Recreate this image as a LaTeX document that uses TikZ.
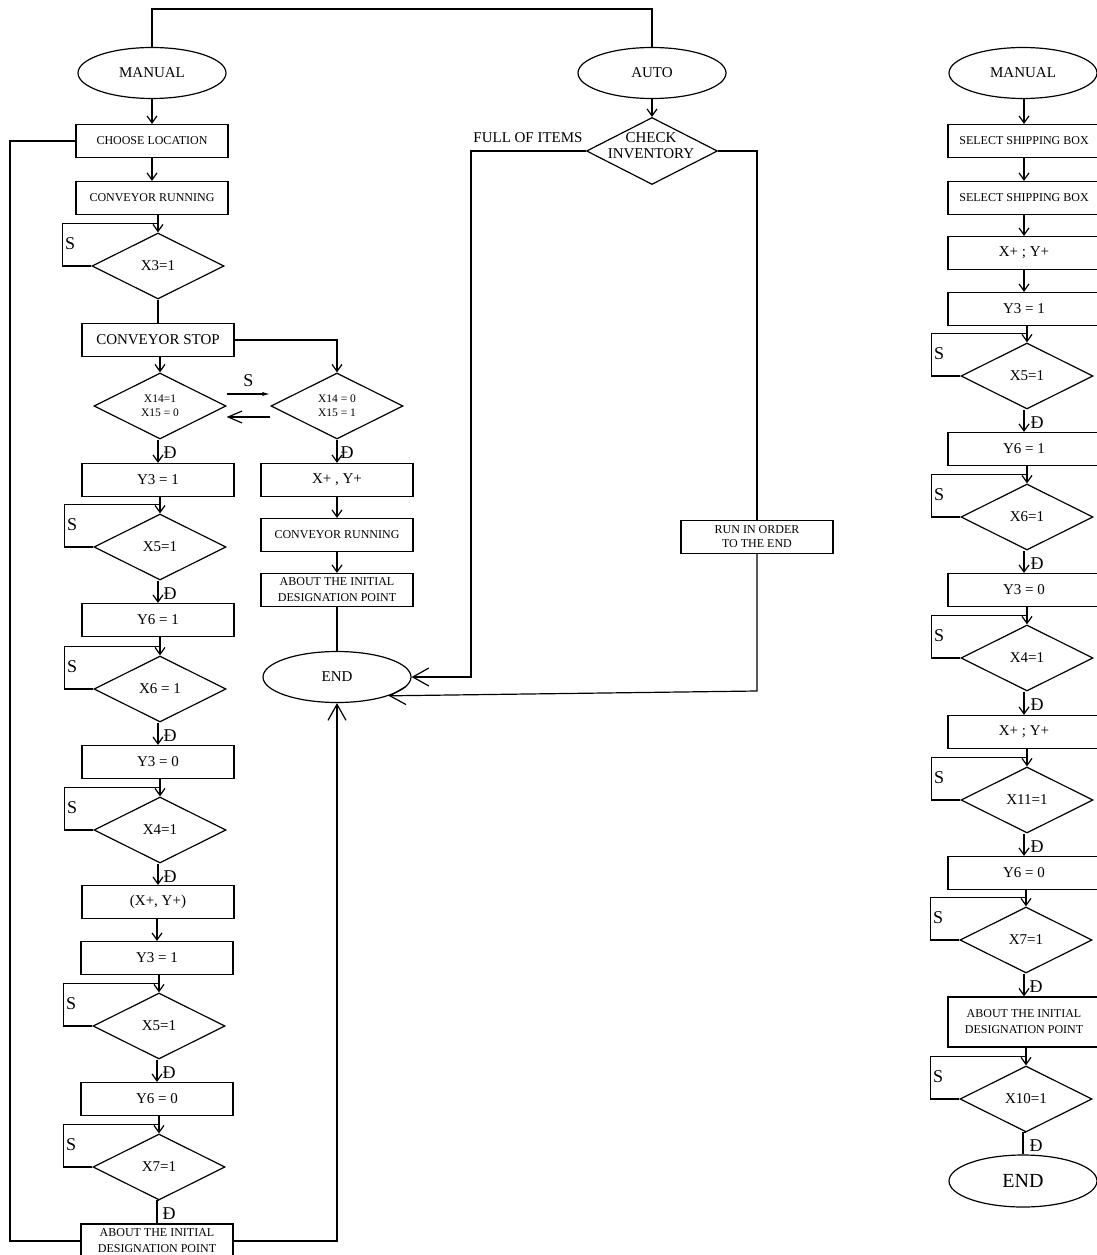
\documentclass[tikz,border=0pt]{standalone}
\usepackage{fontspec}
\setmainfont{Liberation Serif}
\usetikzlibrary{positioning,arrows.meta,shapes.geometric,calc}

\tikzset{
  flowbox/.style={draw,rectangle,minimum width=152pt,minimum height=33pt,
    inner sep=0pt,align=center,font=\fontsize{15}{17}\selectfont},
  smallbox/.style={flowbox,font=\fontsize{12}{14}\selectfont},
  aboutbox/.style={flowbox,font=\fontsize{12}{16}\selectfont},
  decision/.style={draw,diamond,aspect=2,minimum width=132pt,minimum height=66pt,
    inner sep=0pt,align=center,font=\fontsize{15}{17}\selectfont},
  terminal/.style={draw,ellipse,minimum width=148pt,minimum height=51pt,
    inner sep=0pt,font=\fontsize{15}{17}\selectfont},
  arr/.style={-{Straight Barb[length=7pt,width=10pt]}},
  bigarr/.style={-{Straight Barb[length=16pt,width=18pt]}},
  lab/.style={font=\fontsize{18}{20}\selectfont,inner sep=1pt},
}

\begin{document}
\begin{tikzpicture}[x=1pt,y=-1pt,line width=1.2pt]
  \useasboundingbox (0,0) rectangle (1097,1255);

  % left column: manual mode
  \node[terminal] (manL) at (152,73) {MANUAL};
  \node[smallbox] (choose) at (152,141) {CHOOSE LOCATION};
  \node[smallbox] (run1) at (152,198) {CONVEYOR RUNNING};
  \node[decision] (dX3) at (158,266) {X3=1};
  \node[flowbox] (stop) at (158,340) {CONVEYOR STOP};
  \node[decision,font=\fontsize{11.5}{14}\selectfont] (dA) at (160,406) {X14=1\\X15 = 0};
  \node[decision,font=\fontsize{11.5}{14}\selectfont] (dB) at (337,406) {X14 = 0\\X15 = 1};
  \node[flowbox] (y3a) at (158,480) {Y3 = 1};
  \node[decision] (dX5a) at (160,547) {X5=1};
  \node[flowbox] (y6a) at (158,620) {Y6 = 1};
  \node[decision] (dX6a) at (160,689) {X6 = 1};
  \node[flowbox] (y3b) at (158,762) {Y3 = 0};
  \node[decision] (dX4a) at (160,830) {X4=1};
  \node[flowbox] (xyA) at (158,902) {(X+, Y+)};
  \node[flowbox] (y3c) at (157,958) {Y3 = 1};
  \node[decision] (dX5b) at (159,1026) {X5=1};
  \node[flowbox] (y6b) at (157,1099) {Y6 = 0};
  \node[decision] (dX7a) at (159,1167) {X7=1};
  \node[aboutbox,minimum height=34pt] (about2) at (157,1241) {ABOUT THE INITIAL\\DESIGNATION POINT};

  % second branch
  \node[flowbox] (xyB) at (337,480) {X+ , Y+};
  \node[smallbox] (run2) at (337,535) {CONVEYOR RUNNING};
  \node[aboutbox] (about1) at (337,590) {ABOUT THE INITIAL\\DESIGNATION POINT};
  \node[terminal] (endA) at (337,677) {END};

  % middle: auto mode
  \node[terminal] (auto) at (652,73) {AUTO};
  \node[decision,minimum width=131pt,minimum height=67pt] (chk) at (652,151) {};
  \node[align=center,inner sep=0pt,font=\fontsize{15}{16}\selectfont] (chkT) at (651,146) {CHECK\\INVENTORY};
  \node[font=\fontsize{15}{17}\selectfont,inner sep=0pt] (full) at (528,138) {FULL OF ITEMS};
  \node[smallbox] (runB) at (757,537) {RUN IN ORDER\\TO THE END};
  \coordinate (fullC) at (471,677);
  \coordinate (runC) at (757,691);
  \coordinate (topC) at (400,9);
  \coordinate (retL) at (10,1241);

  % right column: shipping
  \node[terminal] (manR) at (1023,73) {MANUAL};
  \node[smallbox] (sel1) at (1024,141) {SELECT SHIPPING BOX};
  \node[smallbox] (sel2) at (1024,198) {SELECT SHIPPING BOX};
  \node[flowbox] (xyR1) at (1024,253) {X+ ; Y+};
  \node[flowbox] (y3R) at (1024,309) {Y3 = 1};
  \node[decision] (dR5) at (1027,376) {X5=1};
  \node[flowbox] (y6R) at (1024,449) {Y6 = 1};
  \node[decision] (dR6) at (1027,517) {X6=1};
  \node[flowbox] (y3R0) at (1024,590) {Y3 = 0};
  \node[decision] (dR4) at (1027,658) {X4=1};
  \node[flowbox] (xyR2) at (1024,732) {X+ ; Y+};
  \node[decision] (dR11) at (1027,800) {X11=1};
  \node[flowbox] (y6R0) at (1024,873) {Y6 = 0};
  \node[decision] (dR7) at (1026,940) {X7=1};
  \node[aboutbox,minimum height=50pt] (aboutR) at (1024,1022) {ABOUT THE INITIAL\\DESIGNATION POINT};
  \node[decision] (dR10) at (1026,1099) {X10=1};
  \node[terminal,minimum height=52pt,font=\fontsize{20}{22}\selectfont] (endR) at (1023,1181) {END};

  % straight arrows
  \foreach \a/\b in {manL/choose,choose/run1,run1/dX3,stop/dA,y3a/dX5a,y6a/dX6a,
      y3b/dX4a,xyA/y3c,y3c/dX5b,y6b/dX7a,xyB/run2,run2/about1,auto/chk,
      manR/sel1,sel1/sel2,sel2/xyR1,xyR1/y3R,y3R/dR5,y6R/dR6,y3R0/dR4,
      xyR2/dR11,y6R0/dR7,aboutR/dR10}
    \draw[arr] (\b.north |- \a.south) -- (\b.north);

  % yes exits
  \foreach \a/\b in {dA/y3a,dB/xyB,dX5a/y6a,dX6a/y3b,dX4a/xyA,dX5b/y6b,
      dR5/y6R,dR6/y3R0,dR4/xyR2,dR11/y6R0,dR7/aboutR}
  {
    \draw[arr] (\b.north |- \a.south) -- (\b.north);
    \node[lab,anchor=west] at ($(\a.south)+(2,13)$) {Đ};
  }
  \foreach \a/\b in {dX7a/about2,dR10/endR}
  {
    \draw (\a.south) -- (\b.north |- \a.south) -- (\b.north);
    \node[lab,anchor=west] at ($(\a.south)+(2,13)$) {Đ};
  }

  % no exits: wait loops
  \foreach \d in {dX3,dX5a,dX6a,dX4a,dX5b,dX7a,dR5,dR6,dR4,dR11,dR7,dR10}
  {
    \draw (\d.west) -- ++(-29,0) |- ($(\d.north)+(0,-9)$);
    \node[lab,anchor=west] at ($(\d.west)+(-28,-22)$) {S};
  }

  \draw (dX3.south) -- (stop.north);
  \draw[arr] (stop.east) -| (dB.north);
  \draw[-{Latex[length=8pt,width=4pt]}] ([yshift=12pt]dA.east) -- ([yshift=12pt]dB.west);
  \node[lab] (sTop) at ($(dA.east)!0.5!(dB.west)+(0,-25)$) {S};
  \draw[-{Straight Barb[length=14pt,width=12pt]}] ([yshift=-11pt]dB.west) -- ([yshift=-11pt]dA.east);
  \draw (about1.south) -- (endA.north);

  % return paths
  \draw (manL.north) |- (topC) -| (auto.north);
  \draw (about2.west) -- (retL) |- (choose.west);
  \draw[bigarr] (about2.east) -| (endA.south);
  \draw[bigarr] (chk.west) -| (fullC) -- (endA.east);
  \draw (chk.east) -| (runB.north);
  \draw[bigarr] (runB.south) -- (runC) -- (endA.-20);
\end{tikzpicture}
\end{document}
